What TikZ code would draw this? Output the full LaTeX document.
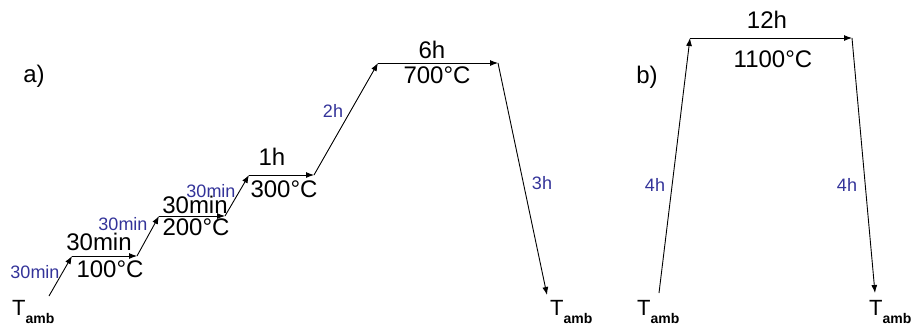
\documentclass[tikz,border=0pt]{standalone}
\usepackage{fontspec}
\setmainfont{Liberation Sans}
\usetikzlibrary{arrows.meta}
\definecolor{lblblue}{RGB}{51,51,153}
\tikzset{
  arr/.style={line width=0.9pt, -{Latex[length=8pt,width=6pt]}},
  big/.style={inner sep=0pt, anchor=base, font=\fontsize{24}{24}\selectfont},
  dur/.style={inner sep=0pt, anchor=base, text=lblblue, font=\fontsize{18}{18}\selectfont},
  tamb/.style={inner sep=0pt, anchor=base west}
}
\newcommand{\Tamb}{{\fontsize{22}{22}\selectfont T}\raisebox{-8pt}{\fontsize{14}{14}\selectfont\bfseries amb}}
\begin{document}
\begin{tikzpicture}[x=1pt,y=-1pt]
\useasboundingbox (0,0) rectangle (914,327);
% panel a
\coordinate (p0) at (49,296);
\coordinate (p1) at (72,256);
\coordinate (p2) at (137,256);
\coordinate (p3) at (159,216);
\coordinate (p4) at (225,216);
\coordinate (p5) at (249,175);
\coordinate (p6) at (314,175);
\coordinate (p7) at (378,63);
\coordinate (p8) at (498,63);
\coordinate (p9) at (547,295);
\draw[arr] (p0) -- (p1);
\draw[arr] (p1) -- (p2);
\draw[arr] (p2) -- (p3);
\draw[arr] (p3) -- (p4);
\draw[arr] (p4) -- (p5);
\draw[arr] (p5) -- (p6);
\draw[arr] (p6) -- (p7);
\draw[arr] (p7) -- (p8);
\draw[arr] (p8) -- (p9);
\node[big] (la) at (34,82) {a)};
\node[tamb] (ta1) at (12,315) {\Tamb};
\node[tamb] (ta2) at (550,315) {\Tamb};
\node[big] (h1) at (99,250) {30min};
\node[big] (c1) at (110,277) {100°C};
\node[big] (h2) at (195,213) {30min};
\node[big] (c2) at (196,235) {200°C};
\node[big] (h3) at (272,165) {1h};
\node[big] (c3) at (284,197) {300°C};
\node[big] (h4) at (432,58) {6h};
\node[big] (c4) at (437,83) {700°C};
\node[dur] (d1) at (35,278) {30min};
\node[dur] (d2) at (123,230) {30min};
\node[dur] (d3) at (211,197) {30min};
\node[dur] (d4) at (333,117) {2h};
\node[dur] (d5) at (542,189) {3h};
% panel b
\coordinate (q0) at (659,293);
\coordinate (q1) at (690,38);
\coordinate (q2) at (852,38);
\coordinate (q3) at (875,293);
\draw[arr] (q0) -- (q1);
\draw[arr] (q1) -- (q2);
\draw[arr] (q2) -- (q3);
\node[big] (lb) at (647,83) {b)};
\node[tamb] (tb1) at (637,315) {\Tamb};
\node[tamb] (tb2) at (869,315) {\Tamb};
\node[big] (h5) at (767,28) {12h};
\node[big] (c5) at (773,67) {1100°C};
\node[dur] (d6) at (655,191) {4h};
\node[dur] (d7) at (847,191) {4h};
\end{tikzpicture}
\end{document}
